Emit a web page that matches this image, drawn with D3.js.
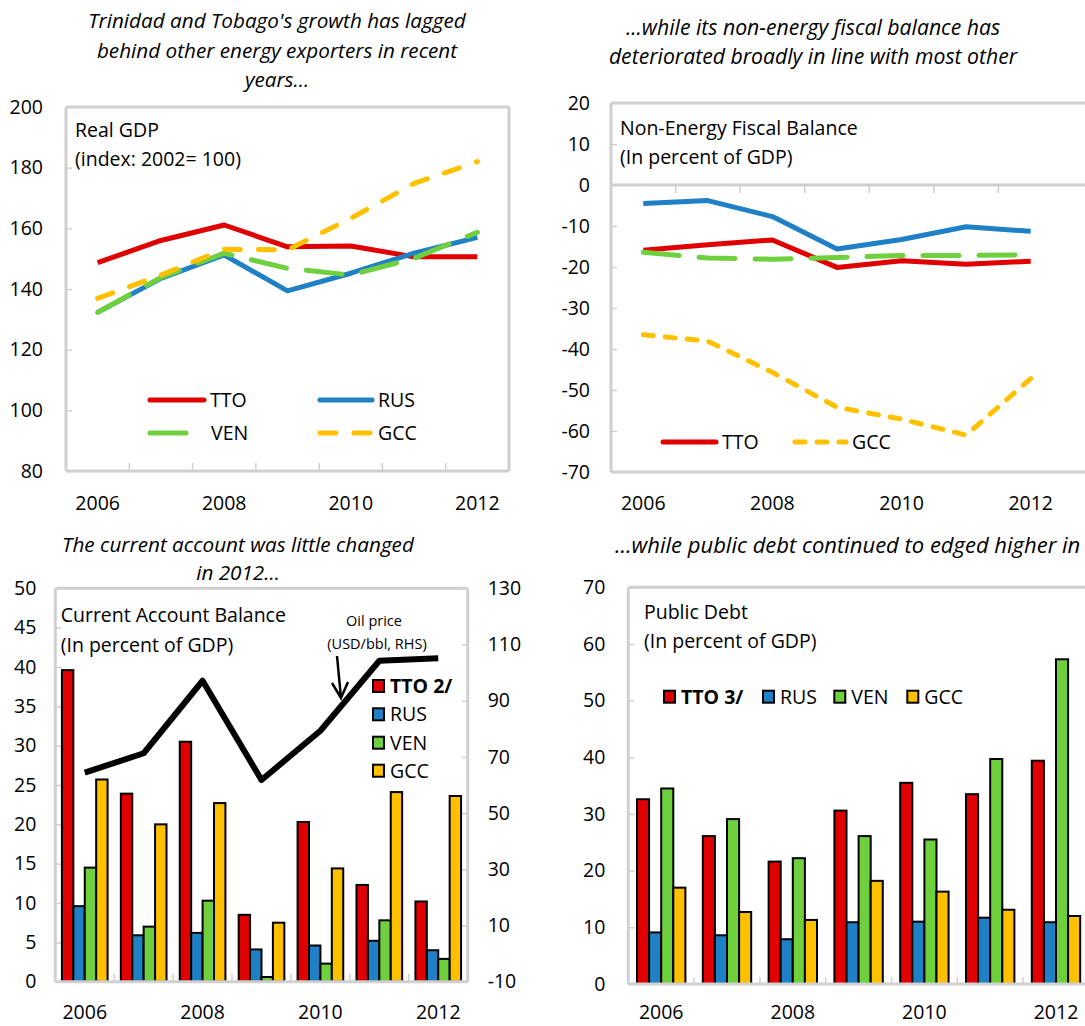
<!DOCTYPE html>
<html>
<head>
<meta charset="utf-8">
<script src="https://cdn.jsdelivr.net/npm/d3@7"></script>
<style>
  body { margin: 0; background: #fff; }
  svg { display: block; font-family: "Open Sans", sans-serif; }
</style>
</head>
<body>
<svg id="chart"></svg>
<script>
const years = [2006, 2007, 2008, 2009, 2010, 2011, 2012];
const yearLabels = ['2006', '', '2008', '', '2010', '', '2012'];

// real GDP, index 2002 = 100
const gdpTTO = [148.7, 156.0, 161.1, 153.9, 154.2, 150.6, 150.6];
const gdpRUS = [132.3, 143.5, 151.2, 139.4, 145.2, 151.8, 157.0];
const gdpVEN = [132.3, 143.8, 151.8, 146.8, 144.6, 150.1, 158.7];
const gdpGCC = [136.9, 144.6, 153.1, 152.9, 163.3, 174.8, 182.0];
const gdpTicks = [80, 100, 120, 140, 160, 180, 200];

// non-energy fiscal balance, % of GDP
const fisTTO = [-15.9, -14.6, -13.4, -20.1, -18.5, -19.3, -18.6];
const fisRUS = [-4.5, -3.8, -7.7, -15.6, -13.3, -10.2, -11.3];
const fisVEN = [-16.4, -17.8, -18.1, -17.7, -17.2, -17.2, -17.0];
const fisGCC = [-36.5, -38.1, -45.7, -54.2, -57.1, -61.0, -47.2];
const fisTicks = [-70, -60, -50, -40, -30, -20, -10, 0, 10, 20];

// current account balance, % of GDP, and oil price (RHS)
const caTTO = [39.6, 23.9, 30.5, 8.5, 20.3, 12.3, 10.2];
const caRUS = [9.6, 5.9, 6.2, 4.1, 4.6, 5.2, 4.0];
const caVEN = [14.5, 7.0, 10.3, 0.6, 2.3, 7.8, 2.9];
const caGCC = [25.7, 20.0, 22.7, 7.5, 14.4, 24.1, 23.6];
const oilPrice = [64.4, 71.3, 97.1, 61.8, 79.3, 104.2, 105.1];
const caTicks = [0, 5, 10, 15, 20, 25, 30, 35, 40, 45, 50];
const oilTicks = [-10, 10, 30, 50, 70, 90, 110, 130];

// public debt, % of GDP
const debtTTO = [32.6, 26.1, 21.6, 30.6, 35.5, 33.5, 39.4];
const debtRUS = [9.1, 8.6, 7.9, 10.9, 11.0, 11.7, 10.9];
const debtVEN = [34.5, 29.1, 22.2, 26.1, 25.5, 39.7, 57.3];
const debtGCC = [17.0, 12.7, 11.3, 18.2, 16.3, 13.1, 12.0];
const debtTicks = [0, 10, 20, 30, 40, 50, 60, 70];

const barNames = ['TTO', 'RUS', 'VEN', 'GCC'];
const colors = { TTO: '#e00000', RUS: '#1f80c6', VEN: '#6fd03e', GCC: '#ffc000' };
const frameColor = '#d0d0d0';
const fs = 19.5;

const W = 1085, H = 1026;
const svg = d3.select('#chart').attr('width', W).attr('height', H);

const title = (lines, cx, y0, dy, anchor, size) => {
    lines.forEach((t, i) => svg.append('text')
        .attr('x', cx).attr('y', y0 + i * dy)
        .attr('text-anchor', anchor || 'middle')
        .attr('font-style', 'italic')
        .attr('font-size', size || 20.7)
        .text(t));
};

const label = (lines, x, y0, dy) => {
    lines.forEach((t, i) => svg.append('text')
        .attr('x', x).attr('y', y0 + i * dy)
        .attr('font-size', fs)
        .text(t));
};

const hline = (x0, x1, y) => svg.append('line')
    .attr('x1', x0).attr('x2', x1).attr('y1', y).attr('y2', y)
    .attr('stroke', frameColor).attr('stroke-width', 3);
const vline = (x, y0, y1) => svg.append('line')
    .attr('x1', x).attr('x2', x).attr('y1', y0).attr('y2', y1)
    .attr('stroke', frameColor).attr('stroke-width', 3);

const yAxis = (scale, x, ticks, pad, right) => {
    const ax = (right ? d3.axisRight(scale) : d3.axisLeft(scale))
        .tickValues(ticks).tickSize(-6).tickPadding(pad)
        .tickFormat(d => String(d));
    svg.append('g')
        .attr('transform', `translate(${x},0)`)
        .call(ax)
        .call(g => g.select('.domain').remove())
        .call(g => g.selectAll('line').attr('stroke', frameColor).attr('stroke-width', 1.5))
        .call(g => g.selectAll('text').attr('fill', '#000')
            .style('font-size', fs + 'px').style('font-family', '"Open Sans", sans-serif'));
};

const catTicks = (x, y, len) => {
    const r0 = x.range()[0];
    d3.range(1, years.length).forEach(i => svg.append('line')
        .attr('x1', r0 + i * x.step()).attr('x2', r0 + i * x.step())
        .attr('y1', y).attr('y2', y + len)
        .attr('stroke', frameColor).attr('stroke-width', 1.5));
};

const xLabels = (x, y) => {
    svg.append('g').selectAll('text')
        .data(years.filter((d, i) => yearLabels[i]))
        .join('text')
        .attr('x', d => x(d) + x.bandwidth() / 2)
        .attr('y', y)
        .attr('text-anchor', 'middle')
        .attr('font-size', fs)
        .text(d => yearLabels[years.indexOf(d)]);
};

const drawLine = (x, y, vals, color, dash, width) => {
    svg.append('path')
        .datum(vals)
        .attr('fill', 'none')
        .attr('stroke', color)
        .attr('stroke-width', width || 5)
        .attr('stroke-dasharray', dash || null)
        .attr('stroke-linecap', dash ? 'round' : 'butt')
        .attr('stroke-linejoin', 'round')
        .attr('d', d3.line().x((d, i) => x(years[i]) + x.bandwidth() / 2).y(d => y(d)));
};

const legendLine = (x0, x1, y, color, dash, text) => {
    svg.append('line').attr('x1', x0).attr('x2', x1).attr('y1', y).attr('y2', y)
        .attr('stroke', color).attr('stroke-width', 5)
        .attr('stroke-linecap', 'round')
        .attr('stroke-dasharray', dash || null);
    svg.append('text').attr('x', x1 + 6).attr('y', y).attr('dy', '0.35em')
        .attr('font-size', fs).text(text);
};

const drawBars = (x, y, series, outer) => {
    const inner = d3.scaleBand().domain(barNames).range([0, x.bandwidth()]).paddingOuter(outer);
    barNames.forEach((name, k) => {
        svg.append('g').selectAll('rect')
            .data(series[k])
            .join('rect')
            .attr('x', (d, i) => x(years[i]) + inner(name))
            .attr('y', d => y(d))
            .attr('width', inner.bandwidth())
            .attr('height', d => y(0) - y(d))
            .attr('fill', colors[name])
            .attr('stroke', '#000')
            .attr('stroke-width', 2);
    });
};

const legendBox = (x, y, name, text, bold) => {
    svg.append('rect').attr('x', x).attr('y', y - 6).attr('width', 11).attr('height', 12)
        .attr('fill', colors[name]).attr('stroke', '#000').attr('stroke-width', 2);
    svg.append('text').attr('x', x + 17).attr('y', y).attr('dy', '0.35em')
        .attr('font-size', fs).attr('font-weight', bold ? 'bold' : null).text(text);
};

// ---------- panel 1: real GDP ----------
{
    const x = d3.scaleBand().domain(years).range([66, 509]);
    const y = d3.scaleLinear().domain([80, 200]).range([471, 107]);
    title(["Trinidad and Tobago's growth has lagged",
           "behind other energy exporters in recent", "years..."], 277, 28, 29.5);
    hline(66, 509, 107); hline(66, 509, 471); vline(66, 107, 471); vline(509, 107, 471);
    yAxis(y, 66, gdpTicks, 23);
    catTicks(x, 471, -8);
    xLabels(x, 510);
    label(['Real GDP', '(index: 2002= 100)'], 75, 137, 29);
    drawLine(x, y, gdpTTO, colors.TTO);
    drawLine(x, y, gdpRUS, colors.RUS);
    drawLine(x, y, gdpVEN, colors.VEN, '36,20');
    drawLine(x, y, gdpGCC, colors.GCC, '16,18');
    legendLine(150, 204, 400, colors.TTO, null, 'TTO');
    legendLine(320, 372, 400, colors.RUS, null, 'RUS');
    legendLine(150, 187, 433, colors.VEN, '36,60', '');
    svg.append('text').attr('x', 211).attr('y', 433).attr('dy', '0.35em').attr('font-size', fs).text('VEN');
    legendLine(320, 372, 433, colors.GCC, '16,18', 'GCC');
}

// ---------- panel 2: non-energy fiscal balance ----------
{
    const x = d3.scaleBand().domain(years).range([611, 1063]);
    const y = d3.scaleLinear().domain([-70, 20]).range([472, 103]);
    title(['...while its non-energy fiscal balance has',
           'deteriorated broadly in line with most other'], 813, 35, 29, 'middle', 21.2);
    hline(611, 1090, 103); hline(611, 1090, 472); vline(611, 103, 472);
    hline(611, 1090, y(0));
    yAxis(y, 611, fisTicks, 21);
    catTicks(x, y(0), 8);
    xLabels(x, 510);
    label(['Non-Energy Fiscal Balance', '(In percent of GDP)'], 620, 135, 29);
    drawLine(x, y, fisRUS, colors.RUS);
    drawLine(x, y, fisTTO, colors.TTO);
    drawLine(x, y, fisVEN, colors.VEN, '36,20');
    drawLine(x, y, fisGCC, colors.GCC, '10,12');
    legendLine(663, 716, 442, colors.TTO, null, 'TTO');
    legendLine(795, 846, 442, colors.GCC, '10,12', 'GCC');
}

// ---------- panel 3: current account ----------
{
    const x = d3.scaleBand().domain(years).range([55.3, 467.7]);
    const y = d3.scaleLinear().domain([0, 50]).range([981.7, 588.3]);
    const yR = d3.scaleLinear().domain([-10, 130]).range([981.7, 588.3]);
    title(['The current account was little changed', 'in 2012...'], 238, 551.7, 28.5);
    hline(55.3, 467.7, 588.3); vline(55.3, 588.3, 981.7); vline(467.7, 588.3, 981.7);
    yAxis(y, 55.3, caTicks, 19);
    yAxis(yR, 467.7, oilTicks, 20, true);
    label(['Current Account Balance', '(In percent of GDP)'], 60.7, 621.7, 30);
    drawBars(x, y, [caTTO, caRUS, caVEN, caGCC], 0.58);
    hline(55.3, 467.7, 981.7);
    catTicks(x, 981.7, -8);
    xLabels(x, 1019);
    drawLine(x, yR, oilPrice, '#000', null, 6);
    svg.append('text').attr('x', 374).attr('y', 626).attr('text-anchor', 'middle')
        .attr('font-size', 14.5).text('Oil price');
    svg.append('text').attr('x', 377).attr('y', 649).attr('text-anchor', 'middle')
        .attr('font-size', 14.5).text('(USD/bbl, RHS)');
    svg.append('path').attr('d', 'M337,656 L341,698 M332,683 L341,698 L348,682')
        .attr('fill', 'none').attr('stroke', '#000').attr('stroke-width', 2.5);
    legendBox(373, 686, 'TTO', 'TTO 2/', true);
    legendBox(373, 714.3, 'RUS', 'RUS');
    legendBox(373, 742.7, 'VEN', 'VEN');
    legendBox(373, 770.7, 'GCC', 'GCC');
}

// ---------- panel 4: public debt ----------
{
    const x = d3.scaleBand().domain(years).range([628.3, 628.3 + 7 * 65.8]);
    const y = d3.scaleLinear().domain([0, 70]).range([984, 587.3]);
    title(['...while public debt continued to edged higher in'], 615, 553, 29, 'start', 22);
    hline(628.3, 1090, 587.3); vline(628.3, 587.3, 984);
    yAxis(y, 628.3, debtTicks, 23);
    label(['Public Debt', '(In percent of GDP)'], 644, 619.3, 29);
    drawBars(x, y, [debtTTO, debtRUS, debtVEN, debtGCC], 0.72);
    hline(628.3, 1090, 984);
    catTicks(x, 984, -7);
    xLabels(x, 1019);
    legendBox(664, 696.7, 'TTO', 'TTO 3/', true);
    legendBox(763, 696.7, 'RUS', 'RUS');
    legendBox(834.3, 696.7, 'VEN', 'VEN');
    legendBox(907.3, 696.7, 'GCC', 'GCC');
}
</script>
</body>
</html>
